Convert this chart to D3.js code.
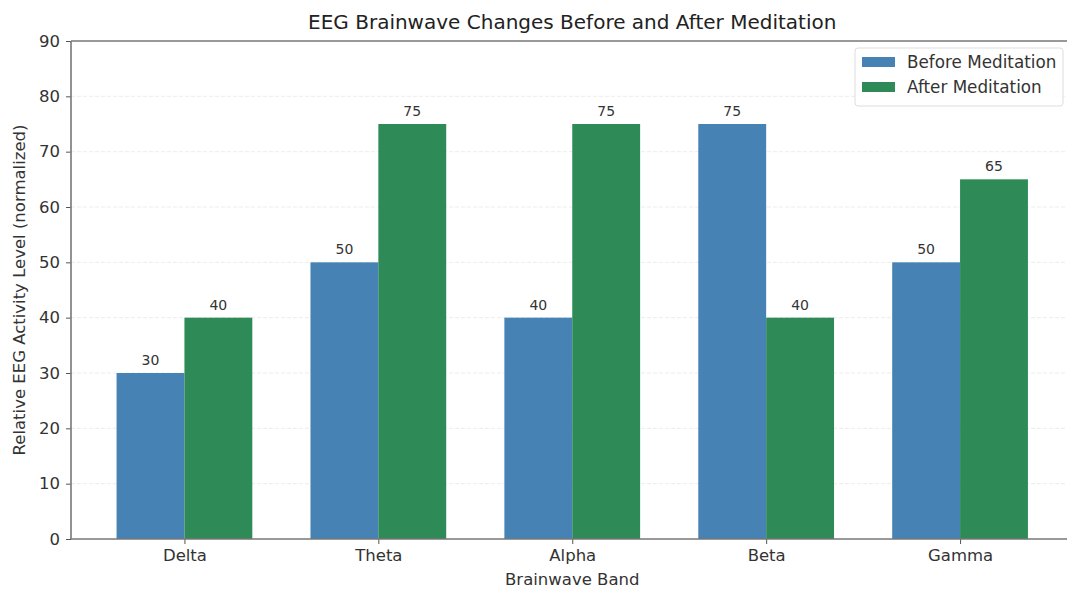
<!DOCTYPE html>
<html>
<head>
<meta charset="utf-8">
<script src="https://cdn.jsdelivr.net/npm/d3@7/dist/d3.min.js"></script>
<style>
  html, body { margin: 0; padding: 0; background: #fff; }
  svg { display: block; font-family: "DejaVu Sans", sans-serif; }
</style>
</head>
<body>
<svg id="chart" width="1067" height="589"></svg>
<script>
const categories = ["Delta", "Theta", "Alpha", "Beta", "Gamma"];
const beforeValues = [30, 50, 40, 75, 50];
const afterValues = [40, 75, 75, 40, 65];
const seriesNames = ["Before Meditation", "After Meditation"];
const seriesColors = ["#4682b4", "#2e8b57"];
const yTicks = [0, 10, 20, 30, 40, 50, 60, 70, 80, 90];

const svg = d3.select("#chart");
const margin = { left: 71, top: 41, right: 1073.5, bottom: 539 };
const barW = 0.35;

// Index-based x scale with matplotlib-like padding
const x = d3.scaleLinear().domain([-0.585, categories.length - 1 + 0.585]).range([margin.left, margin.right]);
const y = d3.scaleLinear().domain([0, 90]).range([margin.bottom, margin.top]);

// Grid lines
svg.append("g").selectAll("line").data(yTicks.slice(1, -1)).join("line")
  .attr("x1", margin.left).attr("x2", margin.right)
  .attr("y1", d => y(d)).attr("y2", d => y(d))
  .attr("stroke", "#b0b0b0").attr("stroke-opacity", 0.3)
  .attr("stroke-dasharray", "4,2").attr("stroke-width", 0.8);

const series = [beforeValues, afterValues];
series.forEach((vals, si) => {
  const off = si === 0 ? -barW : 0;
  const g = svg.append("g");
  g.selectAll("rect").data(vals).join("rect")
    .attr("x", (d, i) => x(i + off))
    .attr("width", (d, i) => x(i + off + barW) - x(i + off))
    .attr("y", d => y(d))
    .attr("height", d => y(0) - y(d))
    .attr("fill", seriesColors[si]);
  g.selectAll("text").data(vals).join("text")
    .attr("x", (d, i) => x(i + off + barW / 2))
    .attr("y", d => y(d) - 8)
    .attr("text-anchor", "middle")
    .attr("font-size", 14)
    .attr("fill", "#333")
    .text(d => d);
});

// Axes
const yAxis = d3.axisLeft(y).tickValues(yTicks).tickSize(5).tickPadding(6);
const yg = svg.append("g").attr("transform", `translate(${margin.left},0)`).call(yAxis);
const xAxis = d3.axisBottom(x).tickValues(d3.range(categories.length)).tickFormat(i => categories[i]).tickSize(5).tickPadding(5);
const xg = svg.append("g").attr("transform", `translate(0,${margin.bottom})`).call(xAxis);
[yg, xg].forEach(g => {
  g.select(".domain").remove();
  g.selectAll(".tick line").attr("stroke", "#555");
  g.selectAll(".tick text").attr("font-size", 16.5).attr("fill", "#333").attr("font-family", "DejaVu Sans, sans-serif");
});

// Spines
const spine = svg.append("g").attr("stroke", "#777").attr("stroke-width", 1.6).attr("fill", "none");
spine.append("line").attr("x1", margin.left).attr("x2", margin.left).attr("y1", margin.top).attr("y2", margin.bottom);
spine.append("line").attr("x1", margin.left).attr("x2", margin.right).attr("y1", margin.bottom).attr("y2", margin.bottom);
spine.append("line").attr("x1", margin.left).attr("x2", margin.right).attr("y1", margin.top).attr("y2", margin.top);
spine.append("line").attr("x1", margin.right).attr("x2", margin.right).attr("y1", margin.top).attr("y2", margin.bottom);

// Title and axis labels
const midX = (margin.left + margin.right) / 2;
svg.append("text").attr("x", midX).attr("y", 29).attr("text-anchor", "middle")
  .attr("font-size", 20).attr("fill", "#222").text("EEG Brainwave Changes Before and After Meditation");
svg.append("text").attr("x", midX).attr("y", 585).attr("text-anchor", "middle")
  .attr("font-size", 16.5).attr("fill", "#333").text("Brainwave Band");
svg.append("text").attr("transform", `translate(25,${(margin.top + margin.bottom) / 2}) rotate(-90)`)
  .attr("text-anchor", "middle").attr("font-size", 16.5).attr("fill", "#333")
  .text("Relative EEG Activity Level (normalized)");

// Legend
const lg = svg.append("g").attr("transform", "translate(855,48)");
lg.append("rect").attr("width", 208).attr("height", 58).attr("rx", 3)
  .attr("fill", "#fff").attr("fill-opacity", 0.85).attr("stroke", "#ddd");
seriesNames.forEach((name, i) => {
  lg.append("rect").attr("x", 7).attr("y", 9 + i * 25).attr("width", 33).attr("height", 10).attr("fill", seriesColors[i]);
  lg.append("text").attr("x", 52).attr("y", 20 + i * 25).attr("font-size", 16.8).attr("fill", "#333").text(name);
});
</script>
</body>
</html>
